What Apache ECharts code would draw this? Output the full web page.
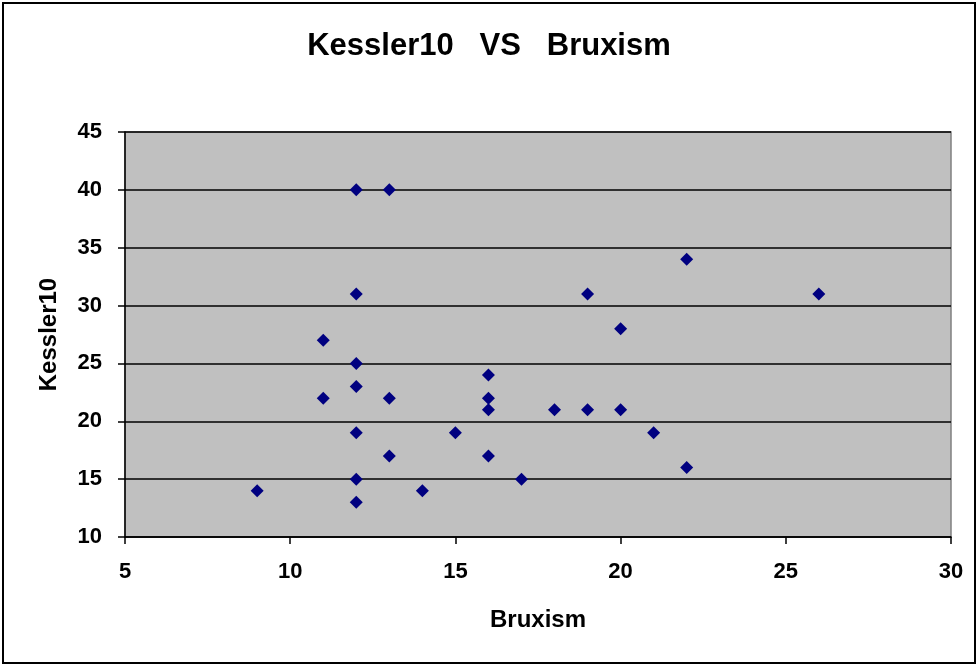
<!DOCTYPE html>
<html>
<head>
<meta charset="utf-8">
<script src="https://cdn.jsdelivr.net/npm/echarts@6/dist/echarts.min.js"></script>
<style>
  html, body { margin: 0; padding: 0; background: #fff; }
  #chart { width: 978px; height: 666px; }
</style>
</head>
<body>
<div id="chart"></div>
<script>
const bruxism = [9, 11, 11, 12, 12, 12, 12, 12, 12, 12, 13, 13, 13, 14, 15, 16, 16, 16, 16, 17, 18, 19, 19, 20, 20, 21, 22, 22, 26];
const kessler = [14, 27, 22, 40, 31, 25, 23, 19, 15, 13, 40, 22, 17, 14, 19, 24, 22, 21, 17, 15, 21, 31, 21, 28, 21, 19, 34, 16, 31];

const fontFamily = '"Liberation Sans", Arial, sans-serif';
const chart = echarts.init(document.getElementById('chart'));

const points = bruxism.map((x, i) => [x, kessler[i]]);

chart.setOption({
  animation: false,
  title: {
    text: 'Kessler10   VS   Bruxism',
    left: 'center',
    top: 26,
    textStyle: { fontFamily, fontSize: 31, fontWeight: 'bold', color: '#000' }
  },
  graphic: [
    {
      type: 'rect',
      shape: { x: 3, y: 3, width: 972, height: 660 },
      style: { fill: 'none', stroke: '#000', lineWidth: 2 },
      z: -1
    }
  ],
  grid: {
    left: 125,
    right: 27,
    top: 132,
    bottom: 129,
    show: true,
    backgroundColor: '#c0c0c0',
    borderColor: '#808080',
    borderWidth: 1.5
  },
  xAxis: {
    type: 'value',
    min: 5,
    max: 30,
    interval: 5,
    name: 'Bruxism',
    nameLocation: 'center',
    nameGap: 71,
    nameTextStyle: { fontFamily, fontSize: 24, fontWeight: 'bold', color: '#000' },
    axisLine: { show: true, onZero: false, lineStyle: { color: '#000', width: 1.5 } },
    axisTick: { show: true, length: 7, lineStyle: { color: '#000', width: 1.5 } },
    axisLabel: { fontFamily, fontSize: 22, fontWeight: 'bold', color: '#000', margin: 24 },
    splitLine: { show: false }
  },
  yAxis: {
    type: 'value',
    min: 10,
    max: 45,
    interval: 5,
    name: 'Kessler10',
    nameLocation: 'center',
    nameGap: 64,
    nameTextStyle: { fontFamily, fontSize: 24, fontWeight: 'bold', color: '#000' },
    axisLine: { show: true, onZero: false, lineStyle: { color: '#000', width: 1.5 } },
    axisTick: { show: true, length: 7, lineStyle: { color: '#000', width: 1.5 } },
    axisLabel: { fontFamily, fontSize: 22, fontWeight: 'bold', color: '#000', margin: 23 },
    splitLine: { show: true, lineStyle: { color: '#000', width: 1.5 } }
  },
  series: [
    {
      type: 'scatter',
      data: points,
      symbol: 'diamond',
      symbolSize: [13, 13],
      itemStyle: { color: '#000080', opacity: 1 }
    }
  ]
});
</script>
</body>
</html>
